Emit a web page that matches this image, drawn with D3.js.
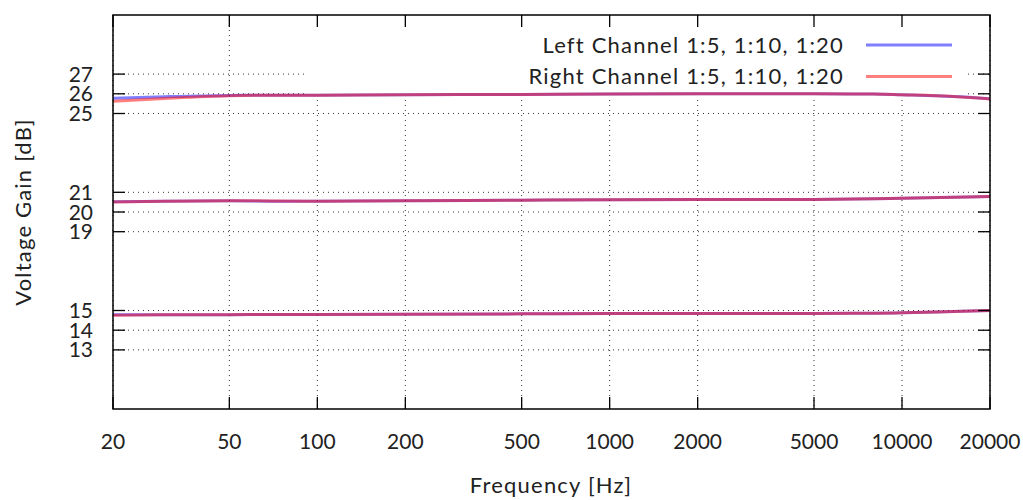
<!DOCTYPE html>
<html>
<head>
<meta charset="utf-8">
<script src="https://cdn.jsdelivr.net/npm/d3@7"></script>
<style>
  body { margin: 0; background: #fff; }
  text { font-family: Lato, sans-serif; fill: #222; }
  .lbl { font-size: 22px; letter-spacing: 1.2px; }
</style>
</head>
<body>
<div id="chart"></div>
<script>
var freqs = [20, 30, 50, 70, 100, 200, 500, 1000, 2000, 5000, 8000, 10000, 15000, 20000];

var left20  = [25.77, 25.85, 25.92, 25.93, 25.93, 25.95, 25.97, 25.99, 26.0, 26.0, 25.99, 25.95, 25.86, 25.75];
var right20 = [25.62, 25.76, 25.9, 25.93, 25.93, 25.95, 25.97, 25.99, 26.0, 26.0, 25.99, 25.95, 25.86, 25.74];
var left10  = [20.52, 20.55, 20.57, 20.55, 20.55, 20.57, 20.6, 20.62, 20.63, 20.64, 20.67, 20.7, 20.75, 20.79];
var right10 = [20.51, 20.55, 20.57, 20.56, 20.55, 20.57, 20.6, 20.62, 20.63, 20.64, 20.67, 20.7, 20.75, 20.79];
var left5   = [14.78, 14.79, 14.79, 14.8, 14.8, 14.81, 14.83, 14.85, 14.85, 14.85, 14.86, 14.88, 14.95, 15.0];
var right5  = [14.76, 14.78, 14.79, 14.8, 14.8, 14.81, 14.83, 14.85, 14.85, 14.85, 14.86, 14.88, 14.95, 15.0];

var xTicks = [20, 50, 100, 200, 500, 1000, 2000, 5000, 10000, 20000];
var yTicks = [13, 14, 15, 19, 20, 21, 25, 26, 27];
var legendLabels = ["Left Channel 1:5, 1:10, 1:20", "Right Channel 1:5, 1:10, 1:20"];

var W = 1023, H = 500;
var margin = {top: 15, right: 33, bottom: 91, left: 113},
    width = W - margin.left - margin.right,
    height = H - margin.top - margin.bottom;

var svg = d3.select("#chart").append("svg")
    .attr("width", W)
    .attr("height", H);

var g = svg.append("g")
    .attr("transform", "translate(" + margin.left + "," + margin.top + ")");

var x = d3.scaleLog().domain([20, 20000]).range([0, width]);
var y = d3.scaleLinear().domain([10, 30]).range([height, 0]);

// grid
g.append("g").selectAll("line").data(xTicks).enter().append("line")
    .attr("x1", function(d) { return x(d); }).attr("x2", function(d) { return x(d); })
    .attr("y1", 0).attr("y2", height)
    .attr("stroke", "#333").attr("stroke-width", 1).attr("stroke-dasharray", "1,4");
g.append("g").selectAll("line").data(yTicks).enter().append("line")
    .attr("x1", 0).attr("x2", width)
    .attr("y1", function(d) { return y(d); }).attr("y2", function(d) { return y(d); })
    .attr("stroke", "#333").attr("stroke-width", 1).attr("stroke-dasharray", "1,4");

// opaque key box
g.append("rect")
    .attr("x", 307 - margin.left).attr("y", 5)
    .attr("width", 968 - 307).attr("height", 97 - margin.top - 5)
    .attr("fill", "#fff");

// curves
var line = d3.line()
    .x(function(d) { return x(d[0]); })
    .y(function(d) { return y(d[1]); })
    .curve(d3.curveMonotoneX);

var series = [
  {vals: left20, color: "rgba(0,0,255,0.5)"},
  {vals: left10, color: "rgba(0,0,255,0.5)"},
  {vals: left5, color: "rgba(0,0,255,0.5)"},
  {vals: right20, color: "rgba(255,0,0,0.5)"},
  {vals: right10, color: "rgba(255,0,0,0.5)"},
  {vals: right5, color: "rgba(255,0,0,0.5)"}
];
series.forEach(function(s) {
  g.append("path")
    .datum(freqs.map(function(f, i) { return [f, s.vals[i]]; }))
    .attr("d", line)
    .attr("fill", "none")
    .attr("stroke", s.color)
    .attr("stroke-width", 3);
});

// ticks (mirrored on all sides)
var tl = 12;
g.append("g").selectAll("line").data(xTicks).enter().append("line")
    .attr("x1", function(d) { return x(d); }).attr("x2", function(d) { return x(d); })
    .attr("y1", height).attr("y2", height - tl)
    .attr("stroke", "#000").attr("stroke-width", 1.3);
g.append("g").selectAll("line").data(xTicks).enter().append("line")
    .attr("x1", function(d) { return x(d); }).attr("x2", function(d) { return x(d); })
    .attr("y1", 0).attr("y2", tl)
    .attr("stroke", "#000").attr("stroke-width", 1.3);
g.append("g").selectAll("line").data(yTicks).enter().append("line")
    .attr("x1", 0).attr("x2", tl)
    .attr("y1", function(d) { return y(d); }).attr("y2", function(d) { return y(d); })
    .attr("stroke", "#000").attr("stroke-width", 1.3);
g.append("g").selectAll("line").data(yTicks).enter().append("line")
    .attr("x1", width).attr("x2", width - tl)
    .attr("y1", function(d) { return y(d); }).attr("y2", function(d) { return y(d); })
    .attr("stroke", "#000").attr("stroke-width", 1.3);

// frame
g.append("rect")
    .attr("width", width).attr("height", height)
    .attr("fill", "none").attr("stroke", "#000").attr("stroke-width", 1.5);

// tick labels
g.append("g").selectAll("text").data(xTicks).enter().append("text")
    .attr("x", function(d) { return x(d); })
    .attr("y", height + 40)
    .attr("text-anchor", "middle")
    .style("font-size", "21px")
    .text(function(d) { return d; });
g.append("g").selectAll("text").data(yTicks).enter().append("text")
    .attr("x", -20)
    .attr("y", function(d) { return y(d); })
    .attr("dy", "0.36em")
    .attr("text-anchor", "end")
    .style("font-size", "21px")
    .text(function(d) { return d; });

// axis labels
svg.append("text")
    .attr("class", "lbl")
    .attr("x", 551).attr("y", 493)
    .attr("text-anchor", "middle")
    .text("Frequency [Hz]");
svg.append("text")
    .attr("class", "lbl")
    .attr("transform", "translate(31," + (margin.top + height / 2) + ") rotate(-90)")
    .attr("text-anchor", "middle")
    .text("Voltage Gain [dB]");

// legend
var legendColors = ["rgba(0,0,255,0.5)", "rgba(255,0,0,0.5)"];
legendLabels.forEach(function(lbl, i) {
  var ly = 45 + i * 31.5;
  svg.append("text")
    .attr("class", "lbl")
    .attr("x", 844).attr("y", ly)
    .attr("dy", "0.36em")
    .attr("text-anchor", "end")
    .text(lbl);
  svg.append("line")
    .attr("x1", 866).attr("x2", 952)
    .attr("y1", ly).attr("y2", ly)
    .attr("stroke", legendColors[i]).attr("stroke-width", 3);
});
</script>
</body>
</html>
